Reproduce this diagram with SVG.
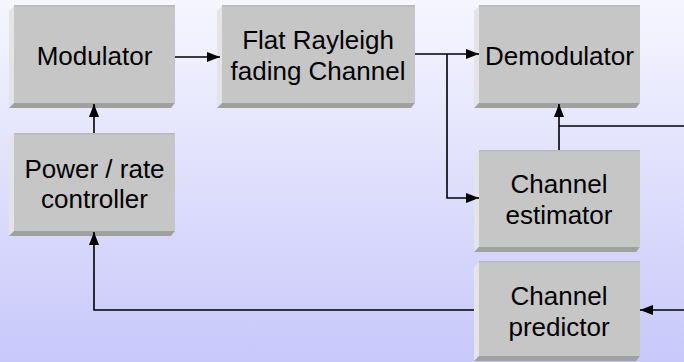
<svg xmlns="http://www.w3.org/2000/svg" width="684" height="362" viewBox="0 0 684 362">
<defs>
<linearGradient id="bg" x1="0" y1="0" x2="0" y2="1">
<stop offset="0" stop-color="#f6f6ff"/>
<stop offset="1" stop-color="#c8c8fa"/>
</linearGradient>
<marker id="ah" markerUnits="userSpaceOnUse" markerWidth="14" markerHeight="12" refX="13" refY="5" orient="auto">
<path d="M0,0 L13,5 L0,10 Z" fill="#000"/>
</marker>
<style>
.face{fill:#c6c6c6}
.lt{fill:#e4e4e4}
.dk{fill:#a0a0a0}
.tp{fill:#b8b8b8}
.t{font-family:"Liberation Sans",Arial,sans-serif;font-size:26px;fill:#000;text-anchor:middle}
.c{fill:none;stroke:#000;stroke-width:1.6}
</style>
</defs>
<rect width="684" height="362" fill="url(#bg)"/>

<g id="modulator">
<rect class="face" x="14" y="6" width="161" height="97"/>
<rect class="tp" x="14" y="5" width="161" height="1.5"/>
<polygon class="lt" points="9,11 14,6 14,103 9,108"/>
<polygon class="dk" points="9,108 14,103 175,103 171,108"/>
<text class="t" x="94.5" y="65">Modulator</text>
</g>

<g id="channel">
<rect class="face" x="222" y="6" width="193" height="97"/>
<rect class="tp" x="222" y="5" width="193" height="1.5"/>
<polygon class="lt" points="217,11 222,6 222,103 217,108"/>
<polygon class="dk" points="217,108 222,103 415,103 411,108"/>
<text class="t" x="318" y="49">Flat Rayleigh</text>
<text class="t" x="318" y="80">fading Channel</text>
</g>

<g id="demodulator">
<rect class="face" x="479" y="6" width="161" height="97"/>
<rect class="tp" x="479" y="5" width="161" height="1.5"/>
<polygon class="lt" points="474,11 479,6 479,103 474,108"/>
<polygon class="dk" points="474,108 479,103 640,103 636,108"/>
<text class="t" x="559.5" y="65">Demodulator</text>
</g>

<g id="controller">
<rect class="face" x="14" y="134" width="161" height="97"/>
<rect class="tp" x="14" y="133" width="161" height="1.5"/>
<polygon class="lt" points="9,139 14,134 14,231 9,236"/>
<polygon class="dk" points="9,236 14,231 175,231 171,236"/>
<text class="t" x="94.5" y="178">Power / rate</text>
<text class="t" x="94.5" y="208">controller</text>
</g>

<g id="estimator">
<rect class="face" x="479" y="151" width="161" height="96"/>
<rect class="tp" x="479" y="150" width="161" height="1.5"/>
<polygon class="lt" points="474,156 479,151 479,247 474,252"/>
<polygon class="dk" points="474,252 479,247 640,247 636,252"/>
<text class="t" x="559" y="193">Channel</text>
<text class="t" x="559" y="224">estimator</text>
</g>

<g id="predictor">
<rect class="face" x="479" y="262" width="161" height="94"/>
<rect class="tp" x="479" y="261" width="161" height="1.5"/>
<polygon class="lt" points="474,267 479,262 479,356 474,361"/>
<polygon class="dk" points="474,361 479,356 640,356 636,361"/>
<text class="t" x="559" y="305">Channel</text>
<text class="t" x="559" y="336">predictor</text>
</g>

<g id="connectors">
<line class="c" x1="175" y1="57" x2="220" y2="57" marker-end="url(#ah)"/>
<line class="c" x1="415" y1="54" x2="479" y2="54" marker-end="url(#ah)"/>
<polyline class="c" points="447,54 447,198 479,198" marker-end="url(#ah)"/>
<line class="c" x1="559" y1="150" x2="559" y2="104" marker-end="url(#ah)"/>
<line class="c" x1="559" y1="126" x2="684" y2="126"/>
<line class="c" x1="684" y1="310" x2="640" y2="310" marker-end="url(#ah)"/>
<polyline class="c" points="474,310 94,310 94,232" marker-end="url(#ah)"/>
<line class="c" x1="94" y1="133" x2="94" y2="104" marker-end="url(#ah)"/>
</g>
</svg>
